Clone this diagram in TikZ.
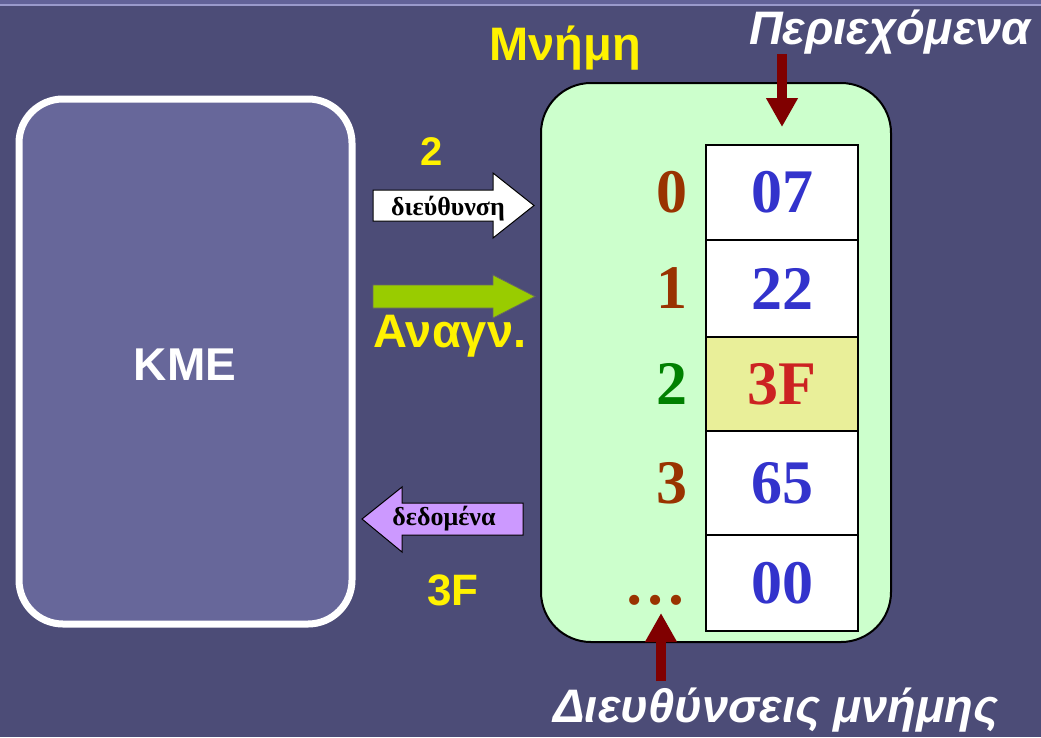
\documentclass[tikz,border=0pt]{standalone}
\usepackage{fontspec}
\setmainfont{Liberation Serif}
\setsansfont{Liberation Sans}
\usetikzlibrary{arrows.meta}

\definecolor{slatebg}{HTML}{4C4C77}
\definecolor{slateband}{HTML}{626298}
\definecolor{slateline}{HTML}{9A9ACC}
\definecolor{cpufill}{HTML}{67679A}
\definecolor{memfill}{HTML}{CCFFCC}
\definecolor{cellhi}{HTML}{E9EF99}
\definecolor{valblue}{HTML}{3333CC}
\definecolor{valred}{HTML}{CC2222}
\definecolor{addrbrown}{HTML}{993300}
\definecolor{addrgreen}{HTML}{008000}
\definecolor{darkred}{HTML}{800000}
\definecolor{readgreen}{HTML}{99CC00}
\definecolor{datapurple}{HTML}{CC99FF}

\tikzset{
  cpubox/.style={draw=white, line width=7pt, fill=cpufill, rounded corners=44pt},
  membox/.style={draw=black, line width=2pt, fill=memfill, rounded corners=50pt},
  cell/.style={draw=black, line width=2.5pt, fill=white, minimum width=152pt,
    inner sep=0pt, text=valblue, font=\bfseries\fontsize{62}{62}\selectfont},
  addr/.style={inner sep=0pt, text=addrbrown, font=\bfseries\fontsize{62}{62}\selectfont},
  yellowlbl/.style={inner sep=0pt, text=yellow, font=\sffamily\bfseries\fontsize{47}{47}\selectfont},
  whitelbl/.style={inner sep=0pt, text=white, font=\sffamily\bfseries\itshape\fontsize{47}{47}\selectfont},
  arrowtxt/.style={inner sep=0pt, font=\bfseries\fontsize{26}{26}\selectfont},
  memarrow/.style={darkred, line width=10pt, -{Triangle[length=29pt,width=30pt]}},
}

\begin{document}
\begin{tikzpicture}[x=1pt, y=-1pt]
  % background
  \useasboundingbox (0,0) rectangle (1041,737);
  \fill[slatebg] (0,0) rectangle (1041,737);
  \fill[slateband] (0,0) rectangle (1041,3.5);
  \fill[slateline] (0,3.5) rectangle (1041,5.5);

  % KME
  \node[cpubox, minimum width=333pt, minimum height=525pt] (kme) at (185.5,361.5) {};
  \node[inner sep=0pt, anchor=base, text=white, font=\sffamily\bfseries\fontsize{46}{46}\selectfont]
    (kmetxt) at (185,380) {KME};

  % Μνήμη
  \node[membox, minimum width=350pt, minimum height=559pt] (mem) at (716,362.5) {};
  \node[yellowlbl, anchor=base] (memlbl) at (565,60) {Μνήμη};

  % κελιά
  \node[cell, minimum height=95pt] (v0) at (782,192.5) {07};
  \node[cell, minimum height=97pt] (v1) at (782,288.5) {22};
  \node[cell, minimum height=94pt, fill=cellhi, text=valred] (v2) at (782,384) {3F};
  \node[cell, minimum height=104pt] (v3) at (782,483) {65};
  \node[cell, minimum height=96pt] (v4) at (782,583) {00};

  % διευθύνσεις
  \node[addr] (a0) at (672,192.5) {0};
  \node[addr] (a1) at (672,288.5) {1};
  \node[addr, text=addrgreen] (a2) at (672,384) {2};
  \node[addr] (a3) at (672,483) {3};
  \node[addr, anchor=base] (adots) at (655,604) {…};

  % διεύθυνση
  \node[yellowlbl, anchor=base, font=\sffamily\bfseries\fontsize{40}{40}\selectfont] (addrval) at (432,165) {2};
  \draw[fill=white, draw=black, line width=1pt]
    (373,190) -- (493,190) -- (493,173) -- (534,205.5) -- (493,238) -- (493,221) -- (373,221) -- cycle;
  \node[arrowtxt, anchor=base] (addrtxt) at (448,215) {διεύθυνση};

  % ανάγνωση
  \draw[fill=readgreen, draw=black!60, line width=0.8pt]
    (373,285) -- (493,285) -- (493,275) -- (535,296.5) -- (493,318) -- (493,308) -- (373,308) -- cycle;
  \node[yellowlbl, anchor=base] (readlbl) at (450,347) {Αναγν.};

  % δεδομένα
  \draw[fill=datapurple, draw=black, line width=1pt]
    (523,503) -- (402,503) -- (402,487) -- (362,519) -- (402,552) -- (402,535) -- (523,535) -- cycle;
  \node[arrowtxt, anchor=base] (datatxt) at (444,525) {δεδομένα};
  \node[yellowlbl, anchor=base, font=\sffamily\bfseries\fontsize{44}{44}\selectfont] (dataval) at (453,605) {3F};

  % Περιεχόμενα
  \node[whitelbl, anchor=base] (contlbl) at (890,44) {Περιεχόμενα};
  \coordinate (contTip) at (782,127);
  \draw[memarrow] (contlbl.south -| contTip) -- (contTip);

  % Διευθύνσεις μνήμης
  \node[whitelbl, anchor=base] (addrlbl) at (776,722) {Διευθύνσεις μνήμης};
  \coordinate (addrTip) at (661,613);
  \draw[memarrow, shorten <=6pt] (addrlbl.north -| addrTip) -- (addrTip);

\end{tikzpicture}
\end{document}
